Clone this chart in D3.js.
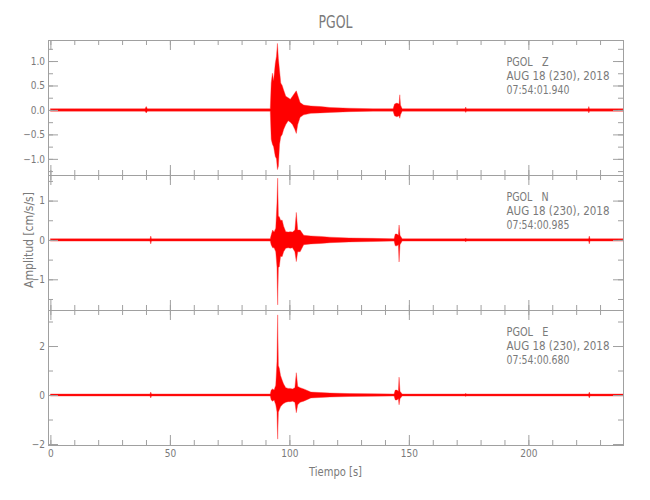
<!DOCTYPE html>
<html><head><meta charset="utf-8">
<script src="https://cdn.jsdelivr.net/npm/d3@7"></script>
<style>
body{margin:0;background:#fff}
text{font-family:"Liberation Sans Narrow","DejaVu Sans Condensed","Liberation Sans",sans-serif;fill:#7a7a7a}
</style>
</head><body>
<svg id="chart" width="650" height="500"></svg>
<script>
// ---- data ----
const title = "PGOL";
const station = "PGOL";
const channels = ["Z", "N", "E"];
const dateLabel = "AUG 18 (230), 2018";
const startTimes = ["07:54:01.940", "07:54:00.985", "07:54:00.680"];
const xTitle = "Tiempo [s]";
const yTitle = "Amplitud [cm/s/s]";
const xDomain = [-1, 239.6];
const xMajorTicks = [0, 50, 100, 150, 200];
const yMajorTicksZ = [-1.0, -0.5, 0.0, 0.5, 1.0];
const yMajorTicksN = [-1, 0, 1];
const yMajorTicksE = [-2, 0, 2];
const yDomainZ = [-1.33, 1.43];
const yDomainN = [-1.78, 1.65];
const yDomainE = [-2.04, 3.47];

// envelope of the Z trace (time in s, upper / lower amplitude)
const timeZ = [0,10,20,30,39.6,40.1,40.6,50,60,70,80,90,
  92.0,92.4,92.9,93.4,94.1,94.6,95.0,95.4,95.9,96.4,97.0,97.6,
  98.5,99.5,100.4,101.3,102.3,102.9,103.5,104.5,106,109,113,117,125,135,
  143.4,144.0,145.0,145.9,146.2,146.5,147.2,150,160,
  173.5,173.8,174.1,190,210,225.0,225.3,225.6,239.6];
const upperZ = [0.025,0.025,0.025,0.025,0.025,0.07,0.025,0.025,0.025,0.025,0.025,0.025,
  0.025,0.55,0.75,0.6,0.95,1.1,1.36,1.05,0.8,0.55,0.5,0.41,
  0.28,0.25,0.22,0.28,0.35,0.39,0.3,0.15,0.1,0.08,0.07,0.05,0.035,0.025,
  0.025,0.12,0.14,0.12,0.31,0.1,0.025,0.025,0.025,
  0.025,0.06,0.025,0.025,0.025,0.025,0.07,0.025,0.025];
const lowerZ = [-0.025,-0.025,-0.025,-0.025,-0.025,-0.06,-0.025,-0.025,-0.025,-0.025,-0.025,-0.025,
  -0.025,-0.6,-0.7,-0.75,-0.95,-1.0,-1.22,-1.15,-0.7,-0.55,-0.5,-0.4,
  -0.3,-0.22,-0.25,-0.3,-0.4,-0.48,-0.3,-0.15,-0.1,-0.07,-0.06,-0.05,-0.035,-0.025,
  -0.025,-0.12,-0.14,-0.12,-0.17,-0.1,-0.025,-0.025,-0.025,
  -0.025,-0.05,-0.025,-0.025,-0.025,-0.025,-0.06,-0.025,-0.025];

// envelopes of the N and E traces
const timeNE = [0,10,20,30,41.7,42.0,42.3,50,60,70,80,90,
  92.0,92.4,93.0,93.6,94.3,94.8,95.1,95.4,95.8,96.3,97.0,97.6,
  98.5,99.5,100.4,101.3,102.3,102.9,103.5,104.5,106,109,113,117,125,135,
  143.8,144.3,145.0,145.6,145.9,146.3,147.2,150,160,
  173.5,173.8,174.1,190,210,225.2,225.5,225.8,239.6];
const upperN = [0.03,0.03,0.03,0.03,0.03,0.1,0.03,0.03,0.03,0.03,0.03,0.03,
  0.03,0.13,0.25,0.2,0.3,0.93,1.57,0.6,0.59,0.5,0.5,0.35,
  0.21,0.2,0.21,0.2,0.25,0.7,0.25,0.25,0.12,0.1,0.09,0.07,0.05,0.04,
  0.03,0.15,0.15,0.12,0.38,0.12,0.03,0.03,0.03,
  0.03,0.05,0.03,0.03,0.03,0.03,0.1,0.03,0.03];
const lowerN = [-0.03,-0.03,-0.03,-0.03,-0.03,-0.1,-0.03,-0.03,-0.03,-0.03,-0.03,-0.03,
  -0.03,-0.13,-0.2,-0.2,-0.3,-0.68,-1.65,-0.7,-0.68,-0.42,-0.42,-0.3,
  -0.21,-0.2,-0.21,-0.2,-0.3,-0.55,-0.3,-0.3,-0.12,-0.1,-0.09,-0.07,-0.05,-0.04,
  -0.03,-0.15,-0.15,-0.12,-0.56,-0.12,-0.03,-0.03,-0.03,
  -0.03,-0.05,-0.03,-0.03,-0.03,-0.03,-0.1,-0.03,-0.03];
const upperE = [0.04,0.04,0.04,0.04,0.04,0.12,0.04,0.04,0.04,0.04,0.04,0.04,
  0.04,0.2,0.25,0.2,0.4,1.36,3.27,1.2,1.09,0.8,0.6,0.45,
  0.3,0.27,0.27,0.25,0.3,0.91,0.35,0.3,0.25,0.12,0.1,0.08,0.06,0.05,
  0.04,0.2,0.2,0.15,0.73,0.15,0.04,0.04,0.04,
  0.04,0.07,0.04,0.04,0.04,0.04,0.12,0.04,0.04];
const lowerE = [-0.04,-0.04,-0.04,-0.04,-0.04,-0.12,-0.04,-0.04,-0.04,-0.04,-0.04,-0.04,
  -0.04,-0.2,-0.25,-0.2,-0.4,-0.68,-1.8,-0.7,-0.6,-0.48,-0.4,-0.35,
  -0.3,-0.27,-0.27,-0.25,-0.3,-0.72,-0.4,-0.3,-0.25,-0.12,-0.1,-0.08,-0.06,-0.05,
  -0.04,-0.2,-0.2,-0.15,-0.4,-0.15,-0.04,-0.04,-0.04,
  -0.04,-0.06,-0.04,-0.04,-0.04,-0.04,-0.12,-0.04,-0.04];

// ---- layout ----
const svg = d3.select("#chart");
const left = 48, right = 623;
const panelTops = [40, 175, 310];
const panelH = 135;
const axisColor = "#a0a0a0";

const x = d3.scaleLinear().domain(xDomain).range([left, right]);
const xMinor = d3.range(0, 240, 10);

const panels = [
  {ch: channels[0], t: timeZ, up: upperZ, lo: lowerZ, dom: yDomainZ, major: yMajorTicksZ, minorStep: 0.25, fmt: d3.format(".1f"), start: startTimes[0]},
  {ch: channels[1], t: timeNE, up: upperN, lo: lowerN, dom: yDomainN, major: yMajorTicksN, minorStep: 0.5, fmt: d3.format("d"), start: startTimes[1]},
  {ch: channels[2], t: timeNE, up: upperE, lo: lowerE, dom: yDomainE, major: yMajorTicksE, minorStep: 1, fmt: d3.format("d"), start: startTimes[2]}
];

function styleAxis(g) {
  g.select(".domain").attr("stroke", axisColor);
  g.selectAll(".tick line").attr("stroke", axisColor);
  g.selectAll(".tick text").attr("fill", "#7a7a7a");
  g.attr("font-family", null);
}

function fitText(sel, w) {
  sel.attr("textLength", w).attr("lengthAdjust", "spacingAndGlyphs");
}

panels.forEach((p, i) => {
  const top = panelTops[i], bottom = top + panelH;
  const y = d3.scaleLinear().domain(p.dom).range([bottom, top]);
  const clipId = "clip" + i;
  svg.append("clipPath").attr("id", clipId).append("rect")
    .attr("x", left).attr("y", top).attr("width", right - left).attr("height", panelH);

  const idx = d3.range(p.t.length);
  const area = d3.area().x(k => x(p.t[k])).y0(k => y(p.lo[k])).y1(k => y(p.up[k]));
  svg.append("path").datum(idx).attr("clip-path", `url(#${clipId})`)
    .attr("d", area).attr("fill", "#ff0000").attr("stroke", "#ff3030").attr("stroke-width", 0.4);

  const minorY = d3.range(Math.ceil(p.dom[0] / p.minorStep) * p.minorStep, p.dom[1], p.minorStep);

  // left axis: minor then major
  svg.append("g").attr("transform", `translate(${left},0)`)
    .call(d3.axisLeft(y).tickValues(minorY).tickSize(-5).tickFormat("")).call(styleAxis);
  svg.append("g").attr("transform", `translate(${left},0)`).attr("font-size", 12)
    .call(d3.axisLeft(y).tickValues(p.major).tickSize(-10).tickPadding(3).tickFormat(p.fmt)).call(styleAxis);
  // right axis
  svg.append("g").attr("transform", `translate(${right},0)`)
    .call(d3.axisRight(y).tickValues(minorY).tickSize(-5).tickFormat("")).call(styleAxis);
  svg.append("g").attr("transform", `translate(${right},0)`)
    .call(d3.axisRight(y).tickValues(p.major).tickSize(-10).tickFormat("")).call(styleAxis);
  // top axis
  svg.append("g").attr("transform", `translate(0,${top})`)
    .call(d3.axisTop(x).tickValues(xMinor).tickSize(-5).tickFormat("")).call(styleAxis);
  svg.append("g").attr("transform", `translate(0,${top})`)
    .call(d3.axisTop(x).tickValues(xMajorTicks).tickSize(-10).tickFormat("")).call(styleAxis);
  // bottom axis
  svg.append("g").attr("transform", `translate(0,${bottom})`)
    .call(d3.axisBottom(x).tickValues(xMinor).tickSize(-5).tickFormat("")).call(styleAxis);
  svg.append("g").attr("transform", `translate(0,${bottom})`).attr("font-size", 12)
    .call(d3.axisBottom(x).tickValues(xMajorTicks).tickSize(-10).tickPadding(5)
      .tickFormat(i === 2 ? d3.format("d") : "")).call(styleAxis);

  // annotation
  const ax = 506.5;
  const lines = [station + "   " + p.ch, dateLabel, p.start];
  const widths = [42, 103, 63];
  lines.forEach((s, j) => {
    svg.append("text").attr("x", ax).attr("y", top + 26 + j * 14)
      .attr("font-size", 13).style("white-space", "pre").text(s).call(fitText, widths[j]);
  });
});

svg.append("text").attr("x", (left + right) / 2).attr("y", 28)
  .attr("text-anchor", "middle").attr("font-size", 17).text(title).call(fitText, 34);
svg.append("text").attr("x", (left + right) / 2).attr("y", 476)
  .attr("text-anchor", "middle").attr("font-size", 13).text(xTitle).call(fitText, 53);
svg.append("text").attr("transform", "translate(33,240) rotate(-90)")
  .attr("text-anchor", "middle").attr("font-size", 13).text(yTitle).call(fitText, 96);
</script>
</body></html>
